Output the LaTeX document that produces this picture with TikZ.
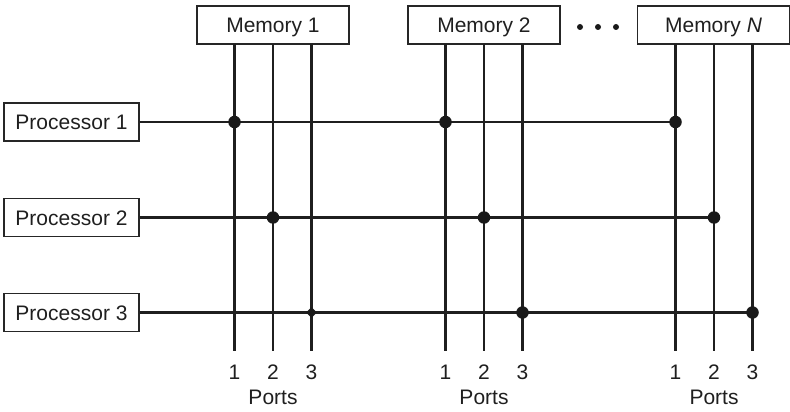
\documentclass[tikz,border=0pt]{standalone}
\usepackage{fontspec}
\setmainfont{Liberation Sans}
\begin{document}
\begin{tikzpicture}[x=1pt,y=-1pt,
  txt/.style={font=\fontsize{21}{25}\selectfont, text=black!88},
  box/.style={draw=black!85, line width=1.2pt, minimum width=152pt, minimum height=38pt,
    inner sep=0pt, txt, text height=15pt, text depth=0pt},
  pbox/.style={box, minimum width=135pt},
  wire/.style={line width=2.3pt, draw=black!88},
  bigdot/.style={circle, fill=black!90, inner sep=0pt, minimum size=12.5pt},
  smalldot/.style={rectangle, rotate=45, fill=black!90, inner sep=0pt, minimum size=7.5pt},
  ell/.style={circle, fill=black!90, inner sep=0pt, minimum size=6pt},
  lbl/.style={txt, inner sep=0pt}]
\useasboundingbox (0,0) rectangle (790,412);

% memories
\node[box] (mem1) at (273,25) {Memory 1};
\node[box] (mem2) at (484,25) {Memory 2};
\node[box] (memN) at (713.5,25) {Memory \textit{N}};
\node[ell] (e1) at (580,27) {};
\node[ell] (e2) at (598,27) {};
\node[ell] (e3) at (616,27) {};

% processors
\node[pbox] (p1) at (71.5,122) {Processor 1};
\node[pbox] (p2) at (71.5,217.5) {Processor 2};
\node[pbox] (p3) at (71.5,312.5) {Processor 3};

% port lines
\foreach \m/\cx in {1/273, 2/484, N/714}{
  \foreach \k in {1,2,3}{
    \coordinate (m\m t\k) at ({\cx+(\k-2)*38.5},44);
    \coordinate (m\m b\k) at ({\cx+(\k-2)*38.5},351);
    \draw[wire] (m\m t\k) -- (m\m b\k);
    \node[lbl] (m\m n\k) at ({\cx+(\k-2)*38.5},372) {\k};
  }
  \node[lbl] (m\m ports) at (\cx,397) {Ports};
}

% processor buses
\draw[wire] (p1.east) -- (p1.east -| mNt1);
\draw[wire] (p2.east) -- (p2.east -| mNt2);
\draw[wire] (p3.east) -- (p3.east -| mNt3);

% connection dots
\node[bigdot] (d11) at (p1.east -| m1t1) {};
\node[bigdot] (d12) at (p1.east -| m2t1) {};
\node[bigdot] (d13) at (p1.east -| mNt1) {};
\node[bigdot] (d21) at (p2.east -| m1t2) {};
\node[bigdot] (d22) at (p2.east -| m2t2) {};
\node[bigdot] (d23) at (p2.east -| mNt2) {};
\node[smalldot] (d31) at (p3.east -| m1t3) {};
\node[bigdot] (d32) at (p3.east -| m2t3) {};
\node[bigdot] (d33) at (p3.east -| mNt3) {};
\end{tikzpicture}
\end{document}
